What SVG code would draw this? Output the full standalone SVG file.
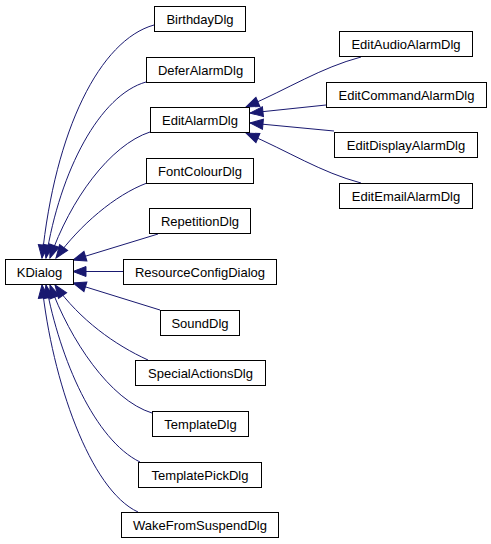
<svg xmlns="http://www.w3.org/2000/svg" width="491" height="544" viewBox="0 0 491 544">
<style>
.n rect{fill:#fff;stroke:#000;stroke-width:1}
.n text{font-family:"Liberation Sans",Arial,sans-serif;font-size:13px;text-anchor:middle;fill:#000}
.e path{fill:none;stroke:#191970;stroke-width:1;marker-end:url(#ah)}
</style>
<defs>
<marker id="ah" markerUnits="userSpaceOnUse" markerWidth="14" markerHeight="11" refX="13" refY="5" orient="auto" overflow="visible">
<path d="M0,0 L13,5 L0,10 Z" fill="#191970" stroke="#191970" stroke-width="1"/>
</marker>
</defs>
<rect width="491" height="544" fill="#fff"/>
<g id="edges" class="e">
<path d="M154,25 C100,40 55,130 42,258"/>
<path d="M146,82 C100,95 60,170 46,258"/>
<path d="M150,132 C110,145 70,200 50,258"/>
<path d="M147,183 C115,195 80,225 56,258"/>
<path d="M158,234 L73,260"/>
<path d="M123,271.5 L73,271.5"/>
<path d="M160,310 L73,283"/>
<path d="M148,360 C115,345 80,320 55,285"/>
<path d="M152,413 C110,400 70,340 50,285"/>
<path d="M140,462 C95,440 60,360 46,285"/>
<path d="M138,512 C90,490 52,380 42,285"/>
<path d="M361,57 C320,68 290,88 246,107"/>
<path d="M326,105 L250,113"/>
<path d="M334,131 L250,123"/>
<path d="M361,183 C320,172 290,152 246,133"/>
</g>
<g id="KDialog" class="n"><rect x="5.5" y="259.5" width="68" height="25"/><text x="39.5" y="276.5">KDialog</text></g>
<g id="BirthdayDlg" class="n"><rect x="154.5" y="6.5" width="91" height="25"/><text x="200" y="23.5">BirthdayDlg</text></g>
<g id="DeferAlarmDlg" class="n"><rect x="146.5" y="57.5" width="108" height="25"/><text x="200.5" y="74.5">DeferAlarmDlg</text></g>
<g id="EditAlarmDlg" class="n"><rect x="150.5" y="107.5" width="99" height="25"/><text x="200" y="124.5">EditAlarmDlg</text></g>
<g id="FontColourDlg" class="n"><rect x="146.5" y="158.5" width="107" height="25"/><text x="200" y="175.5">FontColourDlg</text></g>
<g id="RepetitionDlg" class="n"><rect x="149.5" y="208.5" width="101" height="25"/><text x="200" y="225.5">RepetitionDlg</text></g>
<g id="ResourceConfigDialog" class="n"><rect x="123.5" y="259.5" width="153" height="25"/><text x="200" y="276.5">ResourceConfigDialog</text></g>
<g id="SoundDlg" class="n"><rect x="160.5" y="310.5" width="79" height="25"/><text x="200" y="327.5">SoundDlg</text></g>
<g id="SpecialActionsDlg" class="n"><rect x="135.5" y="360.5" width="130" height="25"/><text x="200.5" y="377.5">SpecialActionsDlg</text></g>
<g id="TemplateDlg" class="n"><rect x="152.5" y="411.5" width="96" height="25"/><text x="200.5" y="428.5">TemplateDlg</text></g>
<g id="TemplatePickDlg" class="n"><rect x="138.5" y="462.5" width="123" height="25"/><text x="200" y="479.5">TemplatePickDlg</text></g>
<g id="WakeFromSuspendDlg" class="n"><rect x="121.5" y="512.5" width="157" height="25"/><text x="200" y="529.5">WakeFromSuspendDlg</text></g>
<g id="EditAudioAlarmDlg" class="n"><rect x="339.5" y="31.5" width="133" height="25"/><text x="406" y="48.5">EditAudioAlarmDlg</text></g>
<g id="EditCommandAlarmDlg" class="n"><rect x="326.5" y="82.5" width="160" height="25"/><text x="406.5" y="99.5">EditCommandAlarmDlg</text></g>
<g id="EditDisplayAlarmDlg" class="n"><rect x="334.5" y="132.5" width="143" height="25"/><text x="406" y="149.5">EditDisplayAlarmDlg</text></g>
<g id="EditEmailAlarmDlg" class="n"><rect x="339.5" y="183.5" width="133" height="25"/><text x="406" y="200.5">EditEmailAlarmDlg</text></g>
</svg>
